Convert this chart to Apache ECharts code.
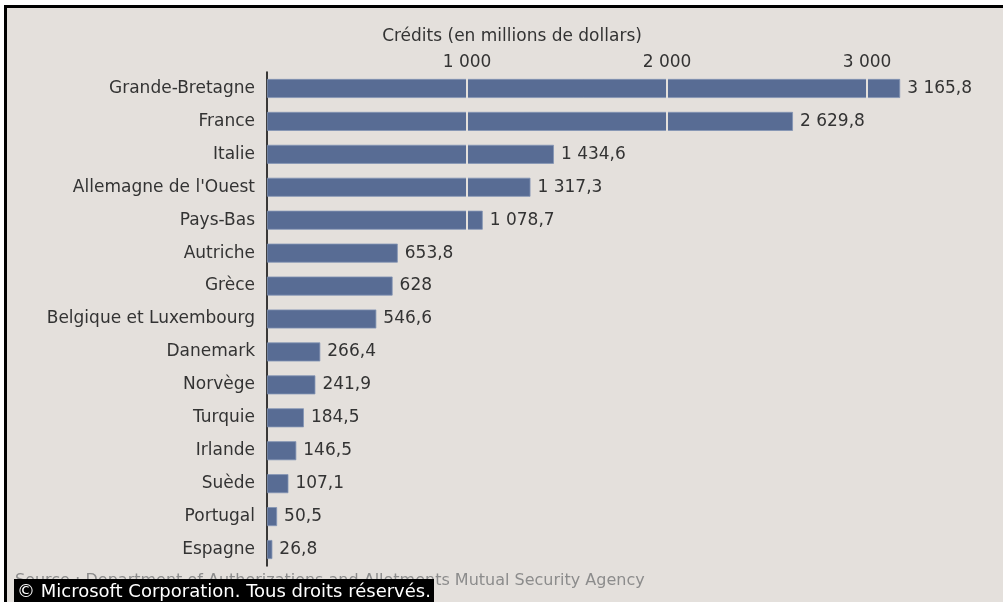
<!DOCTYPE html>
<html>
<head>
<meta charset="utf-8">
<script src="https://cdn.jsdelivr.net/npm/echarts@6/dist/echarts.min.js"></script>
<style>
html,body{margin:0;padding:0;background:#fff;}
#c{width:1005px;height:602px;}
</style>
</head>
<body>
<div id="c"></div>
<script>
var categories = ["Grande-Bretagne","France","Italie","Allemagne de l'Ouest","Pays-Bas","Autriche","Grèce","Belgique et Luxembourg","Danemark","Norvège","Turquie","Irlande","Suède","Portugal","Espagne"];
var credits = [3165.8,2629.8,1434.6,1317.3,1078.7,653.8,628,546.6,266.4,241.9,184.5,146.5,107.1,50.5,26.8];
var tickValues = [1000,2000,3000];
var axisTitle = "Crédits (en millions de dollars)";
var sourceText = "Source : Department of Authorizations and Allotments Mutual Security Agency";
var copyrightText = "© Microsoft Corporation. Tous droits réservés.";

function fr(v){
  var s = String(v).split('.');
  var ip = s[0].replace(/\B(?=(\d{3})+(?!\d))/g,' ');
  return s.length>1 ? ip + ',' + s[1] : ip;
}

var FONT = 'DejaVu Sans';
var FS = 17;
var chart = echarts.init(document.getElementById('c'));
chart.setOption({
  backgroundColor:'#E4E0DC',
  animation:false,
  textStyle:{fontFamily:FONT},
  grid:{left:267,right:38,top:72,bottom:36},
  xAxis:{
    type:'value', position:'top', min:0, max:3500, interval:1000,
    axisLine:{show:false}, axisTick:{show:false}, splitLine:{show:false},
    axisLabel:{color:'#333',fontSize:FS,fontFamily:FONT,margin:1,
      formatter:function(v){return tickValues.indexOf(v)>=0?fr(v):'';}}
  },
  yAxis:{
    type:'category', data:categories, inverse:true,
    axisLine:{show:true,lineStyle:{color:'#000',width:1.5}},
    axisTick:{show:false},
    axisLabel:{color:'#333',fontSize:FS,fontFamily:FONT,margin:12}
  },
  series:[{
    type:'bar', data:credits, barWidth:19,
    itemStyle:{color:'#586C94',borderColor:'#8394B4',borderWidth:0.8},
    label:{show:true,position:'right',distance:7,color:'#333',fontSize:FS,fontFamily:FONT,
      formatter:function(p){return fr(p.value);}},
    markLine:{silent:true,symbol:'none',label:{show:false},
      lineStyle:{color:'#E4E0DC',width:2,type:'solid',opacity:1},
      data:tickValues.map(function(t){return {xAxis:t};})}
  }],
  graphic:[
    {type:'rect',shape:{x:0,y:0,width:1005,height:5},style:{fill:'#fff'},z:100},
    {type:'rect',shape:{x:0,y:0,width:4,height:602},style:{fill:'#fff'},z:100},
    {type:'rect',shape:{x:1003,y:0,width:2,height:602},style:{fill:'#fff'},z:100},
    {type:'rect',shape:{x:4,y:5,width:999,height:3},style:{fill:'#000'},z:101},
    {type:'rect',shape:{x:4,y:5,width:3,height:597},style:{fill:'#000'},z:101},
    {type:'text',x:512,y:37,style:{text:axisTitle,fill:'#333',font:FS+'px "DejaVu Sans"',textAlign:'center',textVerticalAlign:'middle'},z:102},
    {type:'text',x:15,y:581,style:{text:sourceText,fill:'#8C8C8C',font:'16px "DejaVu Sans"',textVerticalAlign:'middle'},z:102},
    {type:'rect',shape:{x:14,y:579,width:420,height:23},style:{fill:'#000'},z:103},
    {type:'text',x:17,y:592,style:{text:copyrightText,fill:'#fff',font:'18px "DejaVu Sans"',textVerticalAlign:'middle'},z:104}
  ]
});
</script>
</body>
</html>
